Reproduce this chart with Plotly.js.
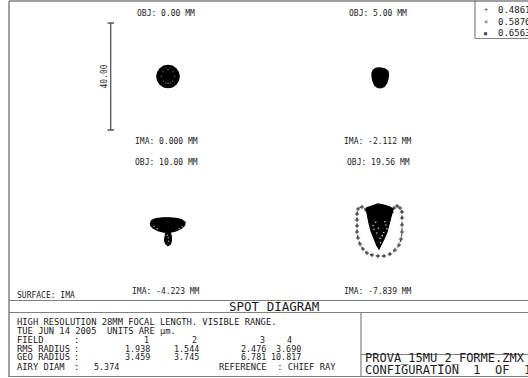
<!DOCTYPE html>
<html>
<head>
<meta charset="utf-8">
<script src="https://cdn.plot.ly/plotly-3.0.1.min.js"></script>
<style>html,body{margin:0;padding:0;background:#fff;}#chart{width:528px;height:378px;}</style>
</head>
<body>
<div id="chart"></div>
<script>
// ---------------- data (µm, relative to chief ray) ----------------
const objHeights = ["0.00", "5.00", "10.00", "19.56"];
const imaHeights = ["0.000", "-2.112", "-4.223", "-7.839"];
const wavelengths = ["0.4861", "0.5876", "0.6563"];
const fieldNums = ["1", "2", "3", "4"];
const rmsRadius = ["1.938", "1.544", "2.476", "3.690"];
const geoRadius = ["3.459", "3.745", "6.781", "10.817"];
const airyDiam = "5.374";
const scaleBar = 40.00;

// spot 1 (on axis) outline
const spot1X = [4.2, 3.88, 2.97, 1.61, 0, -1.61, -2.97, -3.88, -4.2, -3.88, -2.97, -1.61, 0, 1.61, 2.97, 3.88, 4.2];
const spot1Y = [0, 1.61, 2.97, 3.88, 4.2, 3.88, 2.97, 1.61, 0, -1.61, -2.97, -3.88, -4.2, -3.88, -2.97, -1.61, 0];
const spot1RingX = [2.5, 1.8, 0, -1.8, -2.5, -1.8, 0, 1.8, 0.9, -0.9];
const spot1RingY = [0, 1.8, 2.5, 1.8, 0, -1.8, -2.5, -1.8, -2.4, -2.4];

// spot 2 outline
const spot2X = [0, 1.8, 2.9, 3.2, 3.0, 2.5, 1.6, 0.3, -1.0, -2.0, -2.6, -3.0, -3.0, -2.5, -1.4, 0];
const spot2Y = [3.2, 2.9, 2.0, 0.8, -0.8, -2.4, -3.7, -4.3, -4.1, -3.2, -1.8, -0.2, 1.3, 2.5, 3.1, 3.2];

// spot 3 outline (saucer) and tail
const spot3X = [-6.6, -6.0, -4.5, -2.0, 0.5, 3.0, 5.0, 6.4, 6.2, 5.0, 3.0, 1.0, -1.5, -3.5, -5.5, -6.5, -6.6];
const spot3Y = [1.0, 2.0, 2.6, 2.9, 2.9, 2.7, 2.2, 1.2, 0.0, -1.0, -2.0, -2.5, -2.5, -2.0, -1.0, 0.0, 1.0];
const spot3TailX = [-0.8, -1.2, -1.3, -0.9, 0, 0.9, 1.3, 1.2, 0.8, -0.8];
const spot3TailY = [-2.4, -4.0, -5.5, -6.8, -7.6, -7.0, -5.6, -4.0, -2.4, -2.4];
const spot3SpeckX = [-5.2, -4.0, 4.2, 5.3, 0.1, 0.2, -0.3];
const spot3SpeckY = [-0.4, -1.2, -1.2, -0.4, -4.6, -5.9, -3.6];

// spot 4: outer ring of rays and dense core
const spot4RingX = [-5.23, -6.73, -8.22, -8.60, -8.60, -8.60, -8.60, -8.22, -7.48, -6.36, -4.86, -2.99, -0.75, 1.50, 3.74, 5.61, 7.10, 7.85, 8.22, 8.22, 8.22, 8.22, 7.48, 6.36, 5.23, 4.49];
const spot4RingY = [5.79, 6.92, 6.17, 4.30, 2.06, -0.19, -2.43, -4.67, -6.92, -8.79, -10.28, -11.03, -11.40, -11.40, -10.65, -9.16, -7.29, -5.05, -2.43, 0.19, 2.80, 5.05, 6.54, 7.29, 6.54, 5.05];
const spot4CoreX = [-5.23, -2.99, -0.75, 1.50, 3.74, 4.86, 4.11, 3.36, 2.62, 1.50, 0.37, -0.37, -1.12, -2.24, -3.36, -4.11, -4.86, -5.23];
const spot4CoreY = [6.54, 7.29, 8.04, 7.66, 6.92, 6.17, 3.55, 0.56, -2.43, -5.05, -7.66, -8.79, -7.66, -5.05, -2.06, 0.93, 3.93, 6.54];
const spot4SpeckX = [-2.6, 2.2, -1.2, 1.4, 0.0, -2.2, 2.6, -0.6, 0.8, -1.6, 1.8, 0.2];
const spot4SpeckY = [0.0, 0.2, -2.8, -2.6, -4.8, -1.4, -1.2, -1.0, -3.8, 1.2, 1.4, -6.4];

// ---------------- layout helpers ----------------
const W = 528, H = 378;
const X = p => p / W;
const Y = p => 1 - p / H;
const S = 2.675;              // px per µm
const cellCX = [168, 380];
const cellCY = [76.5, 225.5];
const HW = 100, HH = 68;
const MONO = "DejaVu Sans Mono, monospace";
const INK = "#1a1a1a";
const FRAME = "#808080";

const layout = {
  width: W, height: H,
  margin: {l: 0, r: 0, t: 0, b: 0},
  paper_bgcolor: "#fff", plot_bgcolor: "rgba(0,0,0,0)",
  showlegend: false,
  shapes: [], annotations: []
};

for (let i = 0; i < 4; i++) {
  const col = i % 2, row = Math.floor(i / 2);
  const cx = cellCX[col], cy = cellCY[row];
  const sfx = i === 0 ? "" : String(i + 1);
  const ax = {
    domain: [X(cx - HW), X(cx + HW)],
    range: [-HW / S, HW / S],
    visible: false, showgrid: false, zeroline: false, fixedrange: true
  };
  const ay = {
    domain: [Y(cy + HH), Y(cy - HH)],
    range: [-HH / S, HH / S],
    visible: false, showgrid: false, zeroline: false, fixedrange: true
  };
  if (i > 0) { ax.anchor = "y" + sfx; ay.anchor = "x" + sfx; }
  layout["xaxis" + sfx] = ax;
  layout["yaxis" + sfx] = ay;
  const tx = cx - 2;
  layout.annotations.push({
    xref: "paper", yref: "paper", x: X(tx), y: Y(cy - 63.5),
    text: "OBJ: " + objHeights[i] + " MM", showarrow: false,
    xanchor: "center", yanchor: "middle", font: {family: MONO, size: 8, color: INK}
  });
  layout.annotations.push({
    xref: "paper", yref: "paper", x: X(tx), y: Y(cy + 65.5),
    text: "IMA: " + imaHeights[i] + " MM", showarrow: false,
    xanchor: "center", yanchor: "middle", font: {family: MONO, size: 8, color: INK}
  });
}

// scale bar (40 µm) in the first cell, drawn on the y axis scale
const sbx = X(110.7);
layout.shapes.push({type: "line", xref: "paper", yref: "y", x0: sbx, x1: sbx, y0: -scaleBar / 2, y1: scaleBar / 2, line: {color: "#555", width: 1.3}});
layout.shapes.push({type: "line", xref: "paper", yref: "y", x0: X(107.5), x1: X(114), y0: scaleBar / 2, y1: scaleBar / 2, line: {color: "#555", width: 1.3}});
layout.shapes.push({type: "line", xref: "paper", yref: "y", x0: X(107.5), x1: X(114), y0: -scaleBar / 2, y1: -scaleBar / 2, line: {color: "#555", width: 1.3}});
layout.annotations.push({
  xref: "paper", yref: "y", x: X(104), y: 0, text: scaleBar.toFixed(2), textangle: -90,
  showarrow: false, xanchor: "center", yanchor: "middle", font: {family: MONO, size: 8, color: INK}
});

// frame
const line = (x0, y0, x1, y1, w) => layout.shapes.push({type: "line", xref: "paper", yref: "paper", x0: X(x0), y0: Y(y0), x1: X(x1), y1: Y(y1), line: {color: FRAME, width: w || 1.2}});
line(9, 1, 530, 1, 1.5);
line(9, 1, 9, 377, 1.5);
line(9, 300.5, 530, 300.5);
line(9, 312.5, 530, 312.5);
line(9, 376.5, 530, 376.5);
line(361, 312.5, 361, 377);
line(361, 354.5, 530, 354.5);
// wavelength box
line(475, 0, 475, 38.5);
line(475, 38.5, 530, 38.5);

// wavelength legend
const wlSym = ["+", "×", "■"];
const wlY = [10, 22, 33];
wavelengths.forEach((w, k) => {
  layout.annotations.push({xref: "paper", yref: "paper", x: X(485.5), y: Y(wlY[k]), text: wlSym[k], showarrow: false, xanchor: "center", yanchor: "middle", font: {family: MONO, size: k === 2 ? 5 : 7, color: "#444"}});
  layout.annotations.push({xref: "paper", yref: "paper", x: X(496), y: Y(wlY[k]), text: w, showarrow: false, xanchor: "left", yanchor: "middle", font: {family: MONO, size: 9, color: INK}});
});

// bottom texts
const txt = (x, y, t, anchor, size) => {
  layout.annotations.push({xref: "paper", yref: "paper", x: X(x), y: Y(y), text: t, showarrow: false, xanchor: anchor || "left", yanchor: "middle", align: "left", font: {family: MONO, size: size || 8.8, color: INK}});
};
txt(15, 295, "SURFACE: IMA", "left", 8);
txt(274, 306.5, "SPOT DIAGRAM", "center", 12.5);
txt(15, 321.7, "HIGH RESOLUTION 28MM FOCAL LENGTH. VISIBLE RANGE.");
txt(15, 330.7, "TUE JUN 14 2005&nbsp;&nbsp;UNITS ARE µm.");
const rowsY = [340, 348.5, 357.3, 366.5];
txt(15, rowsY[0], "FIELD");
txt(15, rowsY[1], "RMS RADIUS");
txt(15, rowsY[2], "GEO RADIUS");
txt(15, rowsY[3], "AIRY DIAM");
rowsY.forEach(y => txt(71.5, y, ":"));
const fieldRight = [150.5, 199, 267, 294];
const valRight = [152, 200.5, 268, 302.5];
fieldNums.forEach((f, k) => txt(fieldRight[k], rowsY[0], f, "right", 8.4));
rmsRadius.forEach((v, k) => txt(valRight[k], rowsY[1], v, "right", 8.4));
geoRadius.forEach((v, k) => txt(valRight[k], rowsY[2], v, "right", 8.4));
txt(92, rowsY[3], airyDiam, "left", 8.4);
txt(217, rowsY[3], "REFERENCE&nbsp;&nbsp;:&nbsp;CHIEF RAY");
// bottom-right file/config block: one annotation, base size sets the line pitch, spans set glyph size
const big = s => '<span style="font-size:12px">' + s + '</span>';
txt(363, 364.4, big("PROVA_15MU_2_FORME.ZMX") + "<br>" + big("CONFIGURATION&nbsp;&nbsp;1&nbsp;&nbsp;OF&nbsp;&nbsp;1"), "left", 9.2);

// ---------------- traces ----------------
const filled = (x, y, ax, ay) => ({type: "scatter", mode: "lines", x: x, y: y, xaxis: ax, yaxis: ay, fill: "toself", fillcolor: "#000", line: {color: "#000", width: 1.2}, hoverinfo: "skip"});
const dots = (x, y, ax, ay, color, size, symbol) => ({type: "scatter", mode: "markers", x: x, y: y, xaxis: ax, yaxis: ay, marker: {color: color, size: size, symbol: symbol || "circle", line: {width: 0}}, hoverinfo: "skip"});

const data = [
  filled(spot1X, spot1Y, "x", "y"),
  dots(spot1RingX, spot1RingY, "x", "y", "#6a6a6a", 1.5),
  filled(spot2X, spot2Y, "x2", "y2"),
  filled(spot3X, spot3Y, "x3", "y3"),
  filled(spot3TailX, spot3TailY, "x3", "y3"),
  dots(spot3SpeckX, spot3SpeckY, "x3", "y3", "#aaa", 1.5),
  {type: "scatter", mode: "lines+markers", x: spot4RingX, y: spot4RingY, xaxis: "x4", yaxis: "y4",
   line: {color: "#444", width: 1, dash: "dot", shape: "spline"},
   marker: {symbol: "cross-thin", size: 3, line: {color: "#333", width: 1}}, hoverinfo: "skip"},
  filled(spot4CoreX, spot4CoreY, "x4", "y4"),
  dots(spot4SpeckX, spot4SpeckY, "x4", "y4", "#ccc", 1.6)
];

Plotly.newPlot("chart", data, layout, {staticPlot: true, displayModeBar: false});
</script>
</body>
</html>
